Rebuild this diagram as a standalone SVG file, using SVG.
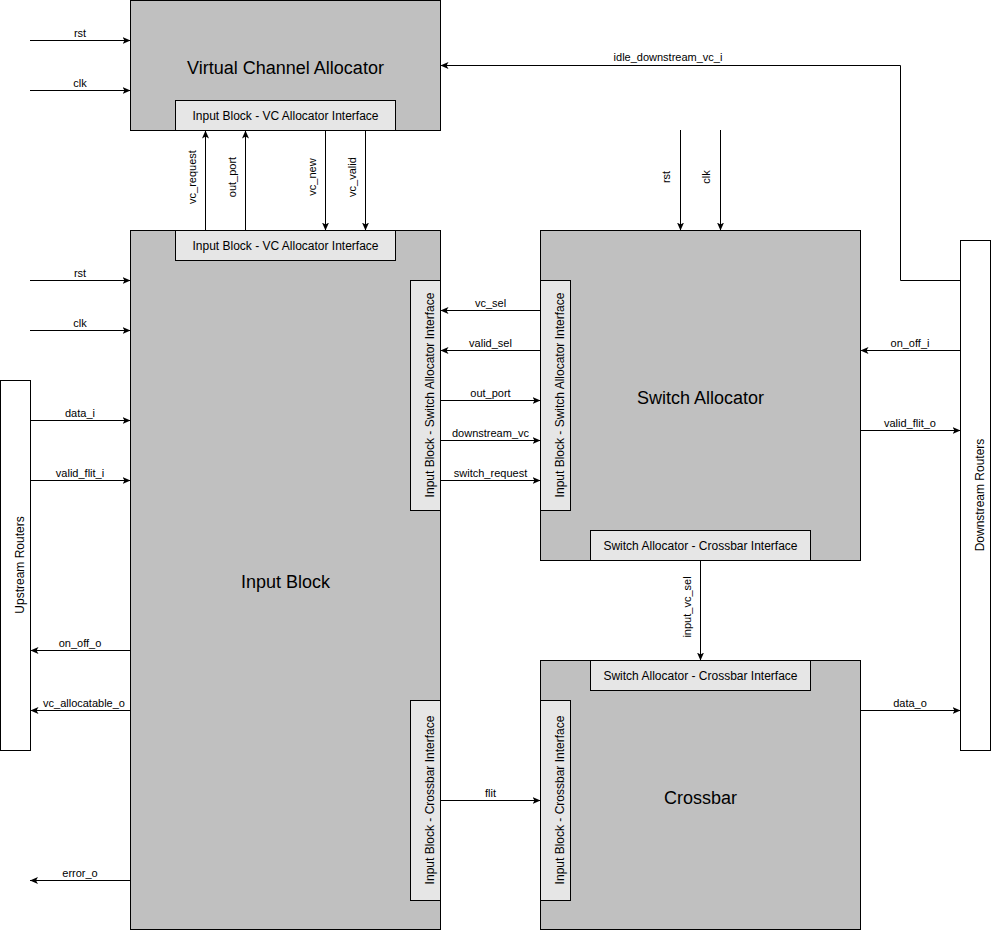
<svg xmlns="http://www.w3.org/2000/svg" width="991" height="931" viewBox="0 0 991 931">
<style>
text{font-family:"Liberation Sans",Arial,Helvetica,sans-serif;fill:#000}
.blk{fill:#C0C0C0;stroke:#000;stroke-width:1}
.ifc{fill:#E6E6E6;stroke:#000;stroke-width:1}
.ext{fill:#FFFFFF;stroke:#000;stroke-width:1}
.title{font-size:18px;text-anchor:middle}
.it{font-size:12px;text-anchor:middle}
.lbl{font-size:11px;text-anchor:middle}
.wire{fill:none;stroke:#000;stroke-width:1;marker-end:url(#arr)}
</style>
<defs>
<marker id="arr" viewBox="0 0 8 8" refX="8" refY="4" markerWidth="8" markerHeight="8" markerUnits="userSpaceOnUse" orient="auto">
<path d="M0,0.5 L8,4 L0,7.5 L2,4 z" fill="#000"/>
</marker>
</defs>

<g id="upstream-routers">
<rect class="ext" x="0.5" y="380.5" width="30" height="370"/>
<text class="it" transform="translate(23.5,565) rotate(-90)">Upstream Routers</text>
</g>

<g id="downstream-routers">
<rect class="ext" x="960.5" y="240.5" width="30" height="510"/>
<text class="it" transform="translate(983.5,495) rotate(-90)">Downstream Routers</text>
</g>

<g id="vc-allocator">
<rect class="blk" x="130.5" y="0.5" width="310" height="130"/>
<text class="title" x="285.5" y="74">Virtual Channel Allocator</text>
<rect class="ifc" x="175.5" y="100.5" width="220" height="30"/>
<text class="it" x="285.5" y="119.5">Input Block - VC Allocator Interface</text>
</g>

<g id="input-block">
<rect class="blk" x="130.5" y="230.5" width="310" height="699"/>
<text class="title" x="285.5" y="588">Input Block</text>
<rect class="ifc" x="175.5" y="230.5" width="220" height="30"/>
<text class="it" x="285.5" y="249.5">Input Block - VC Allocator Interface</text>
<rect class="ifc" x="410.5" y="280.5" width="30" height="230"/>
<text class="it" transform="translate(433.5,395) rotate(-90)">Input Block - Switch Allocator Interface</text>
<rect class="ifc" x="410.5" y="700.5" width="30" height="200"/>
<text class="it" transform="translate(433.5,800) rotate(-90)">Input Block - Crossbar Interface</text>
</g>

<g id="switch-allocator">
<rect class="blk" x="540.5" y="230.5" width="320" height="330"/>
<text class="title" x="700.5" y="403.5">Switch Allocator</text>
<rect class="ifc" x="540.5" y="280.5" width="30" height="230"/>
<text class="it" transform="translate(563.5,395) rotate(-90)">Input Block - Switch Allocator Interface</text>
<rect class="ifc" x="590.5" y="530.5" width="220" height="30"/>
<text class="it" x="700.5" y="549.5">Switch Allocator - Crossbar Interface</text>
</g>

<g id="crossbar">
<rect class="blk" x="540.5" y="660.5" width="320" height="269"/>
<text class="title" x="700.5" y="803.5">Crossbar</text>
<rect class="ifc" x="590.5" y="660.5" width="220" height="30"/>
<text class="it" x="700.5" y="679.5">Switch Allocator - Crossbar Interface</text>
<rect class="ifc" x="540.5" y="700.5" width="30" height="200"/>
<text class="it" transform="translate(563.5,800) rotate(-90)">Input Block - Crossbar Interface</text>
</g>

<g id="connectors">
<path class="wire" d="M30,40.5 H130.5"/>
<text class="lbl" x="80" y="36.5">rst</text>
<path class="wire" d="M30,90.5 H130.5"/>
<text class="lbl" x="80" y="86.5">clk</text>

<path class="wire" d="M960.5,280.5 H900.5 V65.5 H440.5"/>
<text class="lbl" x="668" y="61">idle_downstream_vc_i</text>

<path class="wire" d="M205.5,230.5 V130.5"/>
<text class="lbl" transform="translate(196,177) rotate(-90)">vc_request</text>
<path class="wire" d="M245.5,230.5 V130.5"/>
<text class="lbl" transform="translate(236,177) rotate(-90)">out_port</text>
<path class="wire" d="M325.5,130.5 V230.5"/>
<text class="lbl" transform="translate(316,177) rotate(-90)">vc_new</text>
<path class="wire" d="M365.5,130.5 V230.5"/>
<text class="lbl" transform="translate(356,177) rotate(-90)">vc_valid</text>

<path class="wire" d="M30,280.5 H130.5"/>
<text class="lbl" x="80" y="276.5">rst</text>
<path class="wire" d="M30,330.5 H130.5"/>
<text class="lbl" x="80" y="326.5">clk</text>
<path class="wire" d="M30.5,420.5 H130.5"/>
<text class="lbl" x="80" y="416.5">data_i</text>
<path class="wire" d="M30.5,480.5 H130.5"/>
<text class="lbl" x="80" y="476.5">valid_flit_i</text>
<path class="wire" d="M130.5,650.5 H30.5"/>
<text class="lbl" x="80" y="646.5">on_off_o</text>
<path class="wire" d="M130.5,710.5 H30.5"/>
<text class="lbl" x="84" y="706.5">vc_allocatable_o</text>
<path class="wire" d="M130.5,880.5 H30"/>
<text class="lbl" x="80" y="876.5">error_o</text>

<path class="wire" d="M540.5,310.5 H440.5"/>
<text class="lbl" x="490.5" y="306.5">vc_sel</text>
<path class="wire" d="M540.5,350.5 H440.5"/>
<text class="lbl" x="490.5" y="346.5">valid_sel</text>
<path class="wire" d="M440.5,400.5 H540.5"/>
<text class="lbl" x="490.5" y="396.5">out_port</text>
<path class="wire" d="M440.5,440.5 H540.5"/>
<text class="lbl" x="490.5" y="436.5">downstream_vc</text>
<path class="wire" d="M440.5,480.5 H540.5"/>
<text class="lbl" x="490.5" y="476.5">switch_request</text>
<path class="wire" d="M440.5,800.5 H540.5"/>
<text class="lbl" x="490.5" y="796.5">flit</text>

<path class="wire" d="M680.5,130 V230.5"/>
<text class="lbl" transform="translate(670,177) rotate(-90)">rst</text>
<path class="wire" d="M720.5,130 V230.5"/>
<text class="lbl" transform="translate(710,177) rotate(-90)">clk</text>
<path class="wire" d="M700.5,560.5 V660.5"/>
<text class="lbl" transform="translate(691,607) rotate(-90)">input_vc_sel</text>

<path class="wire" d="M960.5,350.5 H860.5"/>
<text class="lbl" x="910" y="346.5">on_off_i</text>
<path class="wire" d="M860.5,430.5 H960.5"/>
<text class="lbl" x="910" y="426.5">valid_flit_o</text>
<path class="wire" d="M860.5,710.5 H960.5"/>
<text class="lbl" x="910" y="706.5">data_o</text>
</g>
</svg>
